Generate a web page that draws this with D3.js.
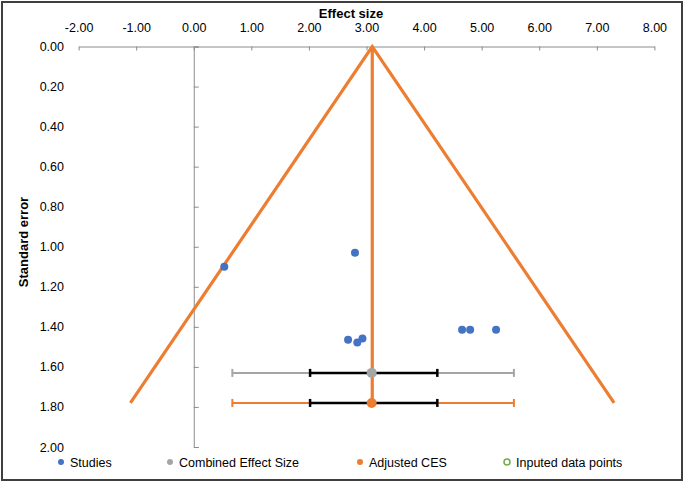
<!DOCTYPE html>
<html>
<head>
<meta charset="utf-8">
<script src="https://cdn.jsdelivr.net/npm/d3@7"></script>
<style>
  html, body { margin: 0; padding: 0; background: #fff; }
  svg { display: block; font-family: "Liberation Sans", Arial, sans-serif; }
</style>
</head>
<body>
<svg id="chart" width="685" height="483"></svg>
<script>
// studies (effect size, standard error)
const studyEffect = [0.53, 2.80, 2.68, 2.84, 2.93, 4.66, 4.80, 5.25];
const studySE     = [1.10, 1.03, 1.465, 1.478, 1.458, 1.415, 1.415, 1.415];

// funnel: apex at the adjusted effect, sides down to the bottom SE
const funnelEffect = [-1.10, 3.10, 7.30];
const funnelSE     = [1.78, 0.00, 1.78];

// combined / adjusted effect size with CI (black) and PI (coloured)
const cesLabels = ["Combined Effect Size", "Adjusted CES"];
const cesEffect = [3.09, 3.09];
const cesSE     = [1.63, 1.78];
const ciLow     = [2.02, 2.02];
const ciHigh    = [4.23, 4.23];
const piLow     = [0.67, 0.67];
const piHigh    = [5.56, 5.56];

const xTicks = [-2, -1, 0, 1, 2, 3, 4, 5, 6, 7, 8];
const yTicks = [0, 0.2, 0.4, 0.6, 0.8, 1.0, 1.2, 1.4, 1.6, 1.8, 2.0];
const legendItems = ["Studies", "Combined Effect Size", "Adjusted CES", "Inputed data points"];

const BLUE = "#4472C4", GREY = "#A5A5A5", ORANGE = "#ED7D31", GREEN = "#70AD47";

const svg = d3.select("#chart");
const x = d3.scaleLinear().domain([-2, 8]).range([78.6, 654.4]);
const y = d3.scaleLinear().domain([0, 2]).range([46.5, 447]);
const fmt = v => v.toFixed(2); // plain hyphen for negatives, like the original

// outer frame
svg.append("rect").attr("x", 2).attr("y", 2).attr("width", 680).attr("height", 478)
  .attr("fill", "#fff").attr("stroke", "#3f3f3f").attr("stroke-width", 2);

// x axis on top, labels above, ticks down
const gx = svg.append("g").attr("transform", `translate(0,${y(0)})`)
  .call(d3.axisTop(x).tickValues(xTicks).tickFormat(fmt).tickSize(0).tickPadding(15));
gx.select(".domain").attr("stroke", "#8c8c8c");
gx.selectAll(".tick line").attr("y2", 4).attr("stroke", "#8c8c8c");
gx.selectAll("text").attr("font-size", 12.5).attr("fill", "#000").attr("font-family", null);

// y axis crossing at 0, ticks to the right
const gy = svg.append("g").attr("transform", `translate(${x(0)},0)`)
  .call(d3.axisRight(y).tickValues(yTicks).tickSize(5).tickFormat(""));
gy.select(".domain").attr("stroke", "#8c8c8c");
gy.selectAll(".tick line").attr("stroke", "#8c8c8c");

// y labels at the left edge
const gyl = svg.append("g").attr("transform", "translate(64,0)")
  .call(d3.axisLeft(y).tickValues(yTicks).tickFormat(fmt).tickSize(0).tickPadding(0));
gyl.select(".domain").remove();
gyl.selectAll("text").attr("font-size", 12.5).attr("fill", "#000").attr("font-family", null);

// axis titles
svg.append("text").attr("x", 351).attr("y", 18).attr("text-anchor", "middle")
  .attr("font-size", 13).attr("font-weight", "bold").text("Effect size");
svg.append("text").attr("transform", "translate(28,242) rotate(-90)").attr("text-anchor", "middle")
  .attr("font-size", 13).attr("font-weight", "bold").text("Standard error");

// funnel
const line = d3.line().x(i => x(funnelEffect[i])).y(i => y(funnelSE[i]));
svg.append("path").attr("d", line(d3.range(funnelEffect.length)))
  .attr("fill", "none").attr("stroke", ORANGE).attr("stroke-width", 3.2).attr("stroke-linejoin", "miter");
svg.append("line")
  .attr("x1", x(funnelEffect[1])).attr("x2", x(funnelEffect[1]))
  .attr("y1", y(0)).attr("y2", y(cesSE[1]))
  .attr("stroke", ORANGE).attr("stroke-width", 3.2);

// error bars
const colors = [GREY, ORANGE];
cesEffect.forEach((e, i) => {
  const g = svg.append("g");
  const yy = y(cesSE[i]);
  const bar = (a, b, c, w) => {
    g.append("line").attr("x1", x(a)).attr("x2", x(b)).attr("y1", yy).attr("y2", yy)
      .attr("stroke", c).attr("stroke-width", w);
    [a, b].forEach(v => g.append("line").attr("x1", x(v)).attr("x2", x(v))
      .attr("y1", yy - 4).attr("y2", yy + 4).attr("stroke", c).attr("stroke-width", w));
  };
  bar(piLow[i], piHigh[i], colors[i], 2);
  bar(ciLow[i], ciHigh[i], "#000", 2.5);
  g.append("circle").attr("cx", x(e)).attr("cy", yy).attr("r", 5).attr("fill", colors[i]);
});

// studies
svg.append("g").selectAll("circle").data(studyEffect).join("circle")
  .attr("cx", d => x(d)).attr("cy", (d, i) => y(studySE[i])).attr("r", 4).attr("fill", BLUE);

// legend
const legX = [61, 170, 360, 507];
const leg = svg.append("g").attr("transform", "translate(0,462)");
legendItems.forEach((t, i) => {
  const c = leg.append("circle").attr("cx", legX[i]).attr("cy", 0).attr("r", 3);
  if (i === 3) c.attr("fill", "none").attr("stroke", GREEN).attr("stroke-width", 1.5);
  else c.attr("fill", [BLUE, GREY, ORANGE][i]);
  leg.append("text").attr("x", legX[i] + 9).attr("y", 4.5).attr("font-size", 12.5).text(t);
});
</script>
</body>
</html>
